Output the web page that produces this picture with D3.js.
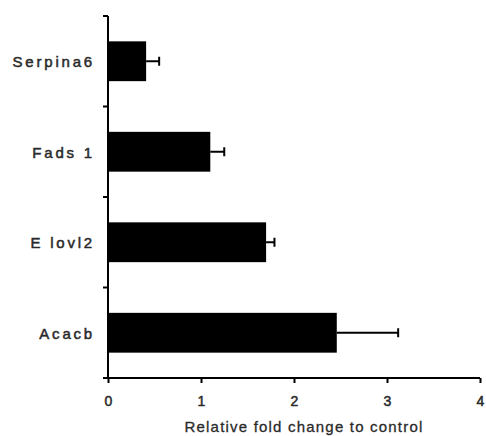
<!DOCTYPE html>
<html><head><meta charset="utf-8">
<script src="https://cdn.jsdelivr.net/npm/d3@7/dist/d3.min.js"></script>
<style>body{margin:0;background:#fff}</style>
</head><body>
<svg id="c" width="486" height="436"></svg>
<script>
const genes = ["Serpina6", "Fads 1", "E lovl2", "Acacb"];
const values = [0.41, 1.10, 1.70, 2.46];
const errors = [0.14, 0.15, 0.09, 0.66];
const xTicks = [0, 1, 2, 3, 4];
const xTitle = "Relative fold change to control";

const svg = d3.select("#c");
const mLeft = 108, mRight = 480, mTop = 16, mBottom = 378;
const font = "Liberation Sans, Arial, sans-serif";
const x = d3.scaleLinear().domain([0, 4]).range([mLeft, mRight]);
const y = d3.scaleBand().domain(genes).range([mTop, mBottom]).paddingInner(0.56).paddingOuter(0.28);

const g = svg.append("g");
g.selectAll("rect.bar").data(genes).join("rect")
  .attr("x", x(0)).attr("y", d => y(d))
  .attr("width", (d, i) => x(values[i]) - x(0))
  .attr("height", y.bandwidth()).attr("fill", "#000");
genes.forEach((d, i) => {
  const cy = y(d) + y.bandwidth() / 2;
  g.append("line").attr("x1", x(values[i])).attr("x2", x(values[i] + errors[i]))
    .attr("y1", cy).attr("y2", cy).attr("stroke", "#000").attr("stroke-width", 2);
  g.append("line").attr("x1", x(values[i] + errors[i])).attr("x2", x(values[i] + errors[i]))
    .attr("y1", cy - 4.5).attr("y2", cy + 4.5).attr("stroke", "#000").attr("stroke-width", 2);
});
const yStep = (mBottom - mTop) / genes.length;
g.append("line").attr("x1", mLeft).attr("x2", mLeft).attr("y1", mTop).attr("y2", mBottom)
  .attr("stroke", "#000").attr("stroke-width", 2);
d3.range(genes.length + 1).forEach(k => {
  const yy = mTop + k * yStep;
  g.append("line").attr("x1", mLeft - 5).attr("x2", mLeft).attr("y1", yy).attr("y2", yy)
    .attr("stroke", "#000").attr("stroke-width", 2);
});
g.selectAll("text.lab").data(genes).join("text")
  .attr("x", 95).attr("y", d => y(d) + y.bandwidth() / 2 + 6)
  .attr("text-anchor", "end").attr("font-family", font)
  .attr("font-size", 15).attr("fill", "#2a2a2a").attr("stroke", "#2a2a2a").attr("stroke-width", 0.5)
  .attr("letter-spacing", "2.8")
  .text(d => d);
const xa = svg.append("g").attr("transform", `translate(0,${mBottom})`)
  .call(d3.axisBottom(x).tickValues(xTicks).tickSize(5).tickSizeOuter(0).tickFormat(d3.format("d")));
xa.select(".domain").attr("stroke", "#000").attr("stroke-width", 2).attr("d", `M${mLeft - 1},0H${mRight}`);
xa.selectAll(".tick line").attr("stroke", "#000").attr("stroke-width", 2);
xa.selectAll(".tick text").attr("font-family", font)
  .attr("font-size", 14).attr("fill", "#2a2a2a").attr("stroke", "#2a2a2a").attr("stroke-width", 0.5)
  .attr("y", 28).attr("dy", 0);
svg.append("text").attr("x", 304).attr("y", 432).attr("text-anchor", "middle")
  .attr("font-family", font).attr("font-size", 15).attr("letter-spacing", "1.2")
  .attr("fill", "#2a2a2a").attr("stroke", "#2a2a2a").attr("stroke-width", 0.3).text(xTitle);
</script>
</body></html>
